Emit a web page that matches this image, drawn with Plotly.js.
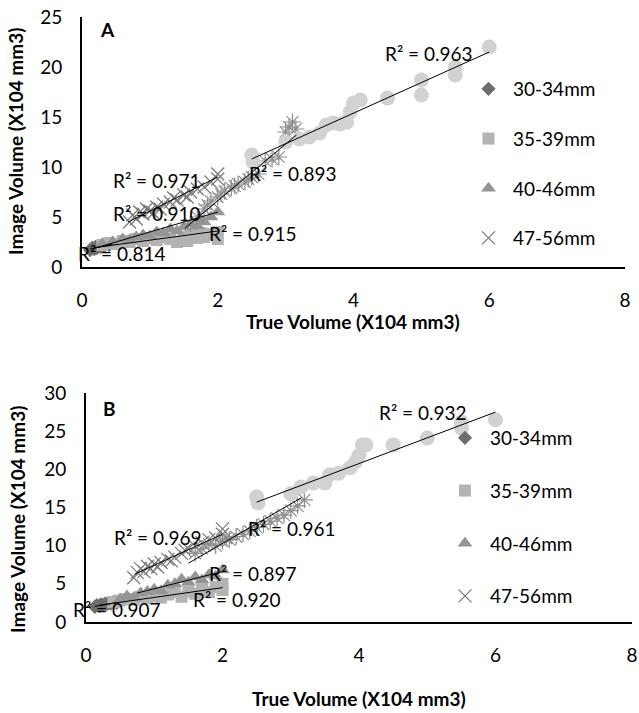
<!DOCTYPE html>
<html>
<head>
<meta charset="utf-8">
<script src="https://cdn.plot.ly/plotly-3.0.1.min.js"></script>
<style>html,body{margin:0;padding:0;background:#fff;}#chart{width:639px;height:713px;}</style>
</head>
<body>
<div id="chart"></div>
<script>
// ---------- DATA ----------
const seriesNames = ['30-34mm', '35-39mm', '40-46mm', '47-56mm', 'Group 5', 'Group 6'];
const xTicks = [0, 2, 4, 6, 8];

// Panel A
const A_s1_x = [0.12, 0.15, 0.18, 0.2, 0.22, 0.25, 0.28, 0.3, 0.33, 0.36, 0.4, 0.45];
const A_s1_y = [1.7, 1.9, 1.8, 2.0, 1.9, 2.1, 2.0, 2.2, 2.1, 2.3, 2.2, 2.4];
const A_s2_x = [0.3, 0.4, 0.5, 0.6, 0.7, 0.8, 0.9, 1.0, 1.1, 1.2, 1.3, 1.4, 1.5, 1.55, 1.6, 1.7, 1.75, 1.8, 1.9, 2.0, 2.0];
const A_s2_y = [2.2, 2.4, 2.3, 2.6, 2.5, 2.8, 2.6, 2.9, 2.7, 3.0, 2.8, 2.5, 3.0, 2.6, 3.2, 2.9, 3.4, 3.0, 3.3, 3.5, 2.8];
const A_s3_x = [0.3, 0.45, 0.6, 0.7, 0.8, 0.9, 1.0, 1.1, 1.2, 1.3, 1.4, 1.5, 1.6, 1.7, 1.75, 1.8, 1.9, 2.0];
const A_s3_y = [2.3, 2.5, 2.8, 2.7, 3.0, 3.2, 3.1, 3.5, 3.4, 3.8, 3.6, 4.0, 4.3, 4.1, 4.8, 4.5, 5.0, 5.5];
const A_s4_x = [0.7, 0.75, 0.8, 0.85, 0.9, 0.95, 1.0, 1.05, 1.1, 1.15, 1.2, 1.3, 1.35, 1.4, 1.5, 1.55, 1.6, 1.7, 1.8, 1.9, 2.0, 2.0];
const A_s4_y = [4.5, 5.2, 4.8, 5.5, 5.3, 5.8, 5.6, 5.4, 6.0, 5.8, 6.3, 6.5, 6.9, 6.7, 7.2, 7.0, 7.5, 7.8, 8.0, 8.5, 9.3, 8.8];
const A_s5_x = [1.6, 1.7, 1.8, 1.85, 1.9, 2.0, 2.05, 2.1, 2.2, 2.25, 2.3, 2.4, 2.45, 2.5, 2.6, 2.7, 2.8, 2.9, 3.0, 3.05, 3.1, 3.15];
const A_s5_y = [4.3, 5.0, 5.8, 6.2, 6.6, 7.0, 7.3, 7.6, 7.9, 8.1, 8.3, 8.5, 8.8, 9.0, 9.3, 10.6, 10.8, 11.0, 13.5, 14.0, 14.5, 13.8];
const A_s6_x = [2.5, 2.52, 3.0, 3.2, 3.35, 3.5, 3.6, 3.7, 3.8, 3.9, 3.95, 4.0, 4.1, 4.5, 5.0, 5.0, 5.5, 5.5, 6.0];
const A_s6_y = [11.2, 10.5, 12.5, 12.8, 13.0, 13.4, 14.2, 14.4, 14.3, 14.5, 15.5, 16.4, 16.7, 16.9, 18.7, 17.2, 20.0, 19.2, 22.0];
// trendline end points, panel A
const A_t1_x = [0.12, 0.45], A_t1_y = [1.8, 2.3];
const A_t2_x = [0.2, 2.0],   A_t2_y = [1.95, 3.6];
const A_t3_x = [0.2, 2.0],   A_t3_y = [1.9, 5.5];
const A_t4_x = [0.68, 2.0],  A_t4_y = [4.5, 9.0];
const A_t5_x = [1.52, 3.16], A_t5_y = [3.9, 13.2];
const A_t6_x = [2.5, 6.0],   A_t6_y = [10.8, 21.5];
const A_r2 = ['0.814', '0.915', '0.910', '0.971', '0.893', '0.963'];
const A_r2_x = [0.59, 2.52, 1.11, 1.11, 3.11, 5.11];
const A_r2_y = [1.4, 3.4, 5.4, 8.7, 9.4, 21.4];

// Panel B
const B_s1_x = [0.13, 0.16, 0.2, 0.22, 0.25, 0.28, 0.3, 0.33, 0.36, 0.4, 0.45];
const B_s1_y = [2.0, 2.2, 2.1, 2.3, 2.2, 2.4, 2.3, 2.5, 2.4, 2.6, 2.5];
const B_s2_x = [0.4, 0.5, 0.6, 0.7, 0.8, 0.9, 1.0, 1.1, 1.2, 1.3, 1.4, 1.5, 1.6, 1.7, 1.8, 1.9, 2.0, 2.0];
const B_s2_y = [2.6, 2.8, 3.0, 2.9, 3.3, 3.1, 3.4, 3.2, 3.6, 3.9, 3.3, 4.0, 3.7, 4.3, 3.9, 4.6, 5.0, 4.2];
const B_s3_x = [0.5, 0.6, 0.7, 0.8, 0.9, 1.0, 1.1, 1.2, 1.3, 1.4, 1.5, 1.6, 1.7, 1.8, 1.9, 2.0];
const B_s3_y = [3.0, 3.4, 3.2, 3.8, 4.0, 4.3, 4.1, 4.8, 5.0, 5.6, 5.2, 5.9, 5.5, 6.2, 6.0, 6.8];
const B_s4_x = [0.7, 0.75, 0.8, 0.85, 0.9, 0.95, 1.0, 1.05, 1.1, 1.2, 1.25, 1.3, 1.4, 1.45, 1.5, 1.6, 1.7, 1.8, 1.9, 2.0, 2.0];
const B_s4_y = [5.8, 6.5, 7.0, 6.6, 7.3, 7.0, 7.6, 7.2, 7.8, 8.2, 8.0, 8.5, 9.0, 9.4, 9.6, 9.9, 10.4, 10.8, 11.0, 12.2, 11.5];
const B_s5_x = [1.6, 1.7, 1.8, 1.9, 2.0, 2.05, 2.1, 2.2, 2.3, 2.4, 2.5, 2.6, 2.7, 2.8, 2.9, 3.0, 3.1, 3.2];
const B_s5_y = [9.0, 9.6, 10.2, 10.0, 10.6, 11.0, 10.8, 11.2, 11.5, 11.9, 12.4, 12.8, 13.2, 13.6, 14.0, 14.6, 15.2, 16.0];
const B_s6_x = [2.5, 2.52, 3.0, 3.15, 3.33, 3.5, 3.57, 3.7, 3.87, 3.95, 4.0, 4.05, 4.1, 4.5, 5.0, 5.5, 5.5, 6.0];
const B_s6_y = [16.4, 15.6, 16.8, 17.7, 18.2, 18.2, 19.3, 19.5, 20.2, 21.0, 21.8, 23.2, 23.2, 23.2, 24.1, 25.4, 26.2, 26.5];
// trendline end points, panel B
const B_t1_x = [0.13, 0.45], B_t1_y = [2.05, 2.55];
const B_t2_x = [0.2, 2.0],   B_t2_y = [2.2, 4.5];
const B_t3_x = [0.75, 2.0],  B_t3_y = [3.8, 6.6];
const B_t4_x = [0.72, 2.0],  B_t4_y = [6.3, 11.5];
const B_t5_x = [1.5, 3.16],  B_t5_y = [7.7, 16.3];
const B_t6_x = [2.5, 6.0],   B_t6_y = [15.7, 27.5];
const B_r2 = ['0.907', '0.920', '0.897', '0.969', '0.961', '0.932'];
const B_r2_x = [0.45, 2.21, 2.44, 1.06, 3.02, 4.94];
const B_r2_y = [1.6, 2.9, 6.4, 11.1, 12.3, 27.4];

// ---------- STYLE ----------
const FONT = 'Lato, "Open Sans", "Liberation Sans", sans-serif';
const FS = 19;
const styles = [
  {symbol: 'diamond', color: '#6e6e6e', size: 11, line: {width: 0}},
  {symbol: 'square', color: '#b3b3b3', size: 12, line: {width: 0}},
  {symbol: 'triangle-up', color: '#959595', size: 13, line: {width: 0}},
  {symbol: 'x-thin-open', color: '#7a7a7a', size: 13, line: {width: 1.2, color: '#7a7a7a'}},
  {symbol: 'asterisk-open', color: '#8e8e8e', size: 14, line: {width: 1.2, color: '#8e8e8e'}},
  {symbol: 'circle', color: '#d2d2d2', size: 15, line: {width: 0}}
];

const panels = [
  {xa: 'x', ya: 'y', lg: 'legend',
   sx: [A_s1_x, A_s2_x, A_s3_x, A_s4_x, A_s5_x, A_s6_x],
   sy: [A_s1_y, A_s2_y, A_s3_y, A_s4_y, A_s5_y, A_s6_y],
   tx: [A_t1_x, A_t2_x, A_t3_x, A_t4_x, A_t5_x, A_t6_x],
   ty: [A_t1_y, A_t2_y, A_t3_y, A_t4_y, A_t5_y, A_t6_y],
   r2: A_r2, rx: A_r2_x, ry: A_r2_y},
  {xa: 'x2', ya: 'y2', lg: 'legend2',
   sx: [B_s1_x, B_s2_x, B_s3_x, B_s4_x, B_s5_x, B_s6_x],
   sy: [B_s1_y, B_s2_y, B_s3_y, B_s4_y, B_s5_y, B_s6_y],
   tx: [B_t1_x, B_t2_x, B_t3_x, B_t4_x, B_t5_x, B_t6_x],
   ty: [B_t1_y, B_t2_y, B_t3_y, B_t4_y, B_t5_y, B_t6_y],
   r2: B_r2, rx: B_r2_x, ry: B_r2_y}
];

const traces = [];
const annotations = [];
panels.forEach((p, pi) => {
  for (let i = 0; i < 6; i++) {
    const st = styles[i];
    traces.push({
      type: 'scatter', mode: 'markers',
      x: p.sx[i], y: p.sy[i], xaxis: p.xa, yaxis: p.ya,
      name: seriesNames[i], legend: p.lg, legendgroup: p.lg + 'g' + i,
      showlegend: i < 4,
      marker: {symbol: st.symbol, color: st.color, size: st.size, line: st.line}
    });
  }
  for (let i = 0; i < 6; i++) {
    traces.push({
      type: 'scatter', mode: 'lines', x: p.tx[i], y: p.ty[i],
      xaxis: p.xa, yaxis: p.ya, showlegend: false, legend: p.lg,
      line: {color: '#000', width: 1}
    });
  }
  for (let i = 0; i < 6; i++) {
    annotations.push({
      xref: p.xa, yref: p.ya, x: p.rx[i], y: p.ry[i],
      text: 'R² = ' + p.r2[i], showarrow: false,
      xanchor: 'center', yanchor: 'middle',
      font: {family: FONT, size: FS, color: '#000'}
    });
  }
});

const W = 639, H = 713;
const px = v => v / W;
const py = v => 1 - v / H;

const boldFont = {family: FONT, size: FS, color: '#000'};
// panel letters
annotations.push({xref: 'paper', yref: 'paper', x: px(107), y: py(30), text: '<b>A</b>', showarrow: false,
  xanchor: 'center', yanchor: 'middle', font: boldFont});
annotations.push({xref: 'paper', yref: 'paper', x: px(110), y: py(408), text: '<b>B</b>', showarrow: false,
  xanchor: 'center', yanchor: 'middle', font: boldFont});
// axis titles
annotations.push({xref: 'paper', yref: 'paper', x: px(353), y: py(321), text: '<b>True Volume (X104 mm3)</b>',
  showarrow: false, xanchor: 'center', yanchor: 'middle', font: boldFont});
annotations.push({xref: 'paper', yref: 'paper', x: px(359), y: py(698), text: '<b>True Volume (X104 mm3)</b>',
  showarrow: false, xanchor: 'center', yanchor: 'middle', font: boldFont});
annotations.push({xref: 'paper', yref: 'paper', x: px(16), y: py(142), text: '<b>Image Volume (X104 mm3)</b>',
  showarrow: false, textangle: -90, xanchor: 'center', yanchor: 'middle', font: boldFont});
annotations.push({xref: 'paper', yref: 'paper', x: px(17), y: py(520), text: '<b>Image Volume (X104 mm3)</b>',
  showarrow: false, textangle: -90, xanchor: 'center', yanchor: 'middle', font: boldFont});

const tickFont = {family: FONT, size: FS, color: '#000'};
const xBase = {range: [0, 8], tickvals: xTicks, showgrid: false, zeroline: false, showline: true,
  linecolor: '#000', linewidth: 2, ticks: '', tickfont: tickFont, ticklabelstandoff: 15, fixedrange: true};
const yBase = {showgrid: false, zeroline: false, showline: true, linecolor: '#000', linewidth: 2,
  ticks: '', tickfont: tickFont, ticklabelstandoff: 14, fixedrange: true};

const legendFont = {family: FONT, size: FS, color: '#000'};
const layout = {
  width: W, height: H,
  margin: {l: 0, r: 0, t: 0, b: 0},
  paper_bgcolor: '#fff', plot_bgcolor: '#fff',
  showlegend: true,
  hovermode: false,
  xaxis: Object.assign({}, xBase, {domain: [px(82), px(625)], anchor: 'y'}),
  yaxis: Object.assign({}, yBase, {domain: [py(267), py(17)], range: [0, 25], dtick: 5, anchor: 'x'}),
  xaxis2: Object.assign({}, xBase, {domain: [px(86), px(632)], anchor: 'y2'}),
  yaxis2: Object.assign({}, yBase, {domain: [py(622), py(393)], range: [0, 30], dtick: 5, anchor: 'x2'}),
  legend: {x: px(464), y: py(70), xanchor: 'left', yanchor: 'top', bgcolor: 'rgba(0,0,0,0)',
    font: legendFont, tracegroupgap: 22, traceorder: 'grouped', itemwidth: 39},
  legend2: {x: px(440), y: py(419), xanchor: 'left', yanchor: 'top', bgcolor: 'rgba(0,0,0,0)',
    font: legendFont, tracegroupgap: 25, traceorder: 'grouped', itemwidth: 40},
  annotations: annotations
};

Plotly.newPlot('chart', traces, layout, {staticPlot: true, displayModeBar: false});
</script>
</body>
</html>
